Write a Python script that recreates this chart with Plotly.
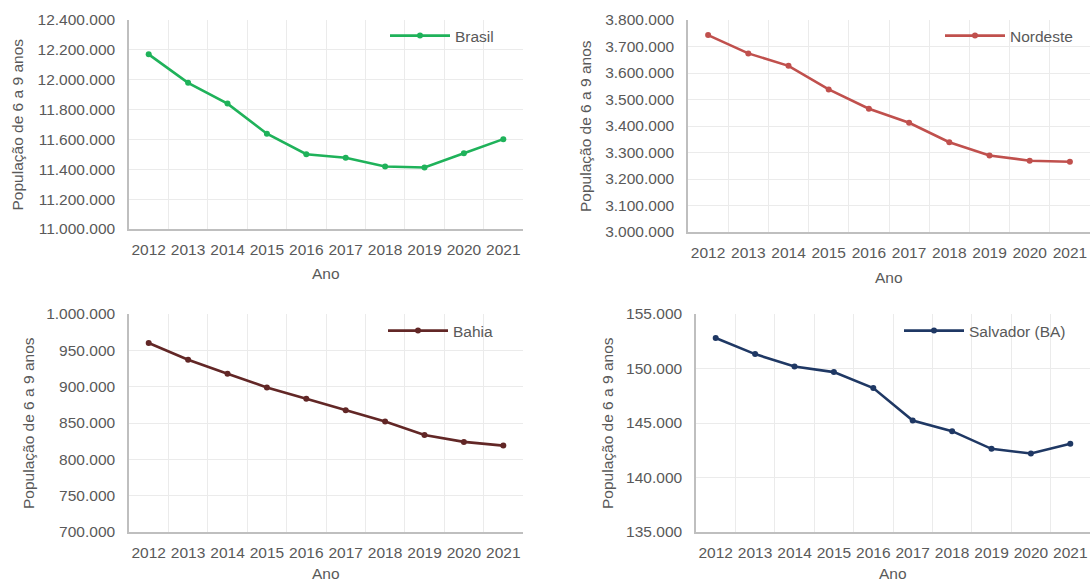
import plotly.graph_objects as go

anos = ["2012", "2013", "2014", "2015", "2016", "2017", "2018", "2019", "2020", "2021"]

brasil = [12170000, 11979000, 11840000, 11638000, 11501000, 11477000, 11419000, 11412000, 11508000, 11602000]
nordeste = [3743000, 3674000, 3627000, 3538000, 3465000, 3412000, 3339000, 3289000, 3269000, 3265000]
bahia = [960000, 937000, 917700, 898900, 883300, 867600, 852000, 833600, 824000, 818900]
salvador = [152800, 151320, 150190, 149670, 148200, 145230, 144250, 142630, 142200, 143090]

series_names = ["Brasil", "Nordeste", "Bahia", "Salvador (BA)"]
y_ranges = [(11000000, 12400000, 200000), (3000000, 3800000, 100000),
            (700000, 1000000, 50000), (135000, 155000, 5000)]

W, H = 1091, 583
TXT = "#595959"
FONT = "Liberation Sans, Arial, sans-serif"
FS = 15.5
colors = ["#1FB25A", "#C0504D", "#622726", "#1F3864"]

# plot areas in page pixels: (left, right, top, bottom)
boxes = [(129, 523, 20, 229), (688, 1090, 20, 232), (129, 523, 314, 532), (696, 1090, 314, 532)]
ytitle_x = [17, 585, 28, 607]
xtitle_y = [273, 277, 573, 573]
legend_pos = [(499, 36), (1078, 36), (499, 331), (1071, 331)]


def px(v):
    return v / W


def py(v):
    return 1 - v / H


fig = go.Figure()
data = [brasil, nordeste, bahia, salvador]
layout = dict(template="none", width=W, height=H, margin=dict(l=0, r=0, t=0, b=0, pad=0),
              paper_bgcolor="white", plot_bgcolor="white", separators=",.",
              font=dict(family=FONT, size=FS, color=TXT), annotations=[])

for i in range(4):
    sfx = "" if i == 0 else str(i + 1)
    legname = "legend" + sfx
    fig.add_trace(go.Scatter(
        x=anos, y=data[i], name=series_names[i], mode="lines+markers",
        line=dict(color=colors[i], width=2.6), marker=dict(color=colors[i], size=6),
        xaxis="x" + sfx, yaxis="y" + sfx, legend=legname, showlegend=True))
    l, r, t, b = boxes[i]
    lo, hi, dt = y_ranges[i]
    layout["xaxis" + sfx] = dict(
        domain=[px(l), px(r)], anchor="y" + sfx, type="category", automargin=False,
        range=[-0.5, 9.5], tickson="boundaries", ticks="", showgrid=True, tickangle=0,
        gridcolor="#EBEBEB", gridwidth=1.3, showline=True, linecolor="#BFBFBF", linewidth=1.5,
        tickfont=dict(size=FS, color=TXT), ticklabelstandoff=6, zeroline=False)
    layout["yaxis" + sfx] = dict(
        domain=[py(b), py(t)], anchor="x" + sfx, range=[lo, hi], dtick=dt,
        automargin=False,
        tick0=lo, tickformat=",d", ticks="", showgrid=True, gridcolor="#EBEBEB", gridwidth=1.3,
        showline=True, linecolor="#BFBFBF", linewidth=1.5, zeroline=False,
        tickfont=dict(size=FS, color=TXT), ticklabelstandoff=9)
    lx, ly = legend_pos[i]
    layout[legname] = dict(x=px(lx), y=py(ly), xanchor="right", yanchor="middle",
                           bgcolor="rgba(0,0,0,0)", font=dict(size=FS, color=TXT),
                           itemwidth=60)
    layout["annotations"].append(dict(
        text="População de 6 a 9 anos", textangle=-90, xref="paper", yref="paper",
        x=px(ytitle_x[i]), y=py((t + b) / 2), showarrow=False,
        xanchor="center", yanchor="middle", font=dict(size=FS, color=TXT)))
    layout["annotations"].append(dict(
        text="Ano", xref="paper", yref="paper", x=px((l + r) / 2), y=py(xtitle_y[i]),
        showarrow=False, xanchor="center", yanchor="middle", font=dict(size=FS, color=TXT)))

fig.update_layout(**layout)
fig.write_html("out.html", config={"displayModeBar": False},
               post_script="document.body.style.margin='0';document.body.style.overflow='hidden';")
